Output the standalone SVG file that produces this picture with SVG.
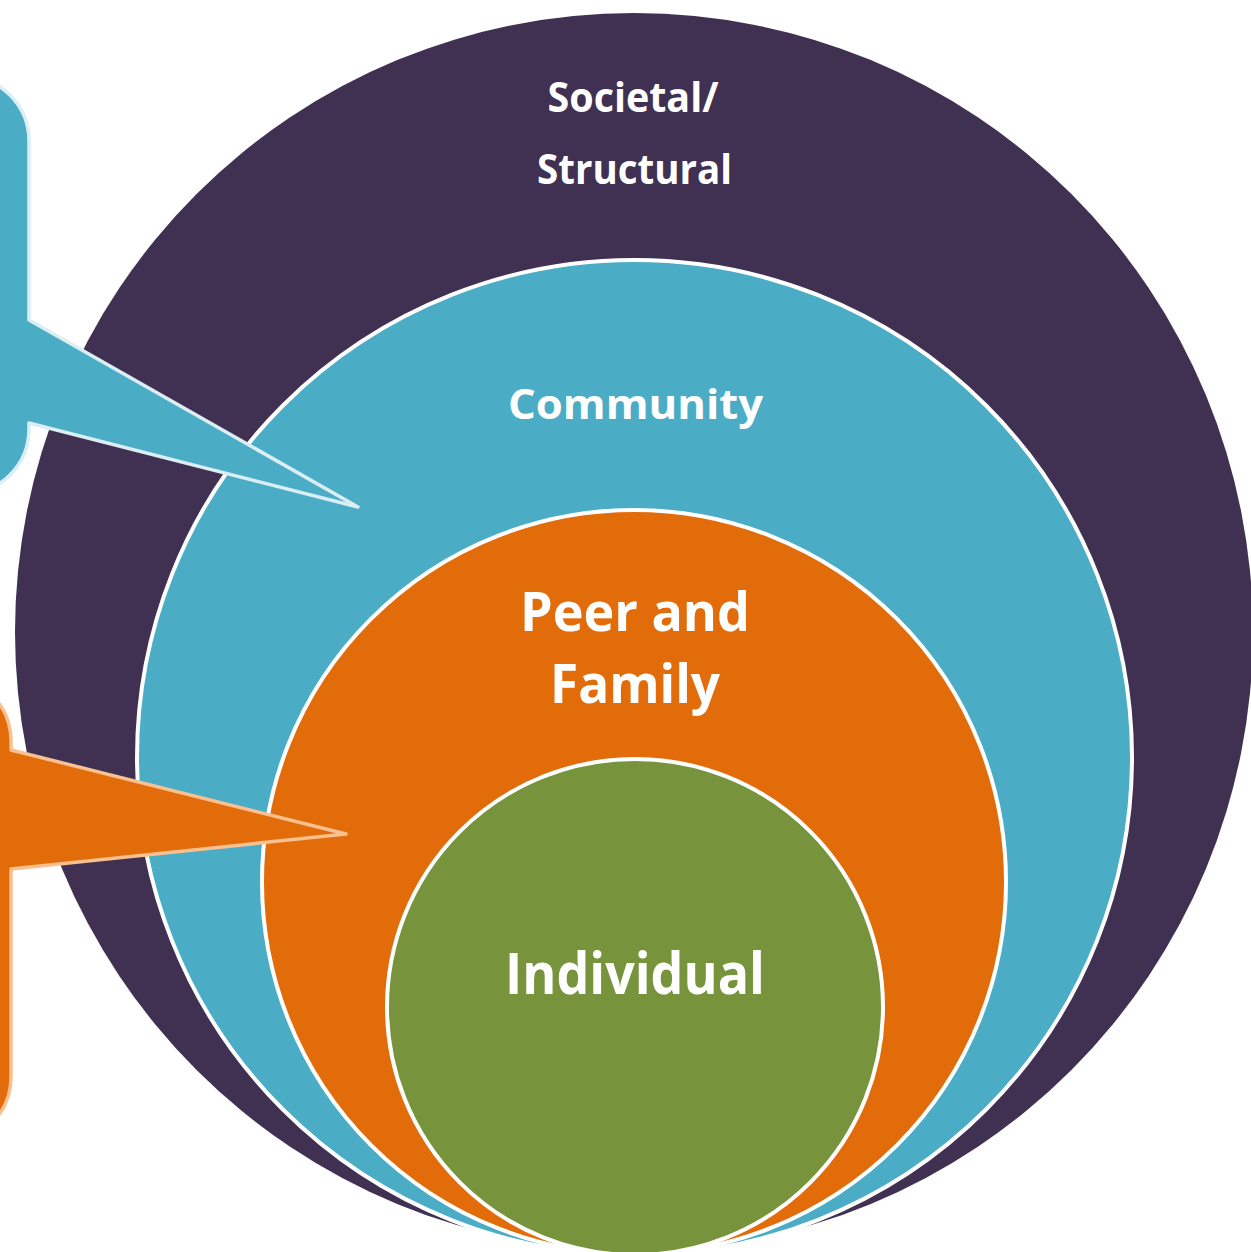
<svg xmlns="http://www.w3.org/2000/svg" width="1251" height="1252" viewBox="0 0 1251 1252">
  <style>
    .ring { stroke: #FFFFFF; stroke-width: 4; }
    .lbl { font-family: "Open Sans", "Noto Sans", "DejaVu Sans", sans-serif; font-weight: 700; fill: #FFFFFF; text-anchor: middle; }
    .sm { font-size: 41px; }
    .lg { font-size: 57px; }
    .md { font-size: 53px; }
    .callout { stroke-width: 3.5; stroke-linejoin: round; }
  </style>
  <rect width="1251" height="1252" fill="#FFFFFF"/>
  <g id="societal">
    <circle cx="634" cy="632" r="619" fill="#403152"/>
    <text class="lbl sm" x="633" y="112" textLength="171" lengthAdjust="spacingAndGlyphs">Societal/</text>
    <text class="lbl sm" x="634.5" y="184" textLength="195" lengthAdjust="spacingAndGlyphs">Structural</text>
  </g>
  <g id="community">
    <circle class="ring" cx="634.5" cy="757.5" r="497.5" fill="#4BACC6"/>
    <text class="lbl sm" x="635.5" y="419" textLength="255" lengthAdjust="spacingAndGlyphs">Community</text>
  </g>
  <g id="peer-family">
    <circle class="ring" cx="634" cy="882" r="372" fill="#E36C0A"/>
    <text class="lbl md" x="635" y="631" textLength="230" lengthAdjust="spacingAndGlyphs">Peer and</text>
    <text class="lbl md" x="635" y="703" textLength="170" lengthAdjust="spacingAndGlyphs">Family</text>
  </g>
  <g id="individual">
    <circle class="ring" cx="635" cy="1007" r="248" fill="#77933C"/>
    <text class="lbl lg" x="635" y="994" textLength="260" lengthAdjust="spacingAndGlyphs">Individual</text>
  </g>
  <g id="connectors">
    <g id="callout-community">
      <path class="callout" fill="#4BACC6" stroke="#DAEEF3" d="M -100,76 H -36 A 65 65 0 0 1 29,141 V 320 L 358,507 L 29,423 V 429 A 65 65 0 0 1 -36,494 H -100 Z"/>
    </g>
    <g id="callout-peer">
      <path class="callout" fill="#E36C0A" stroke="#FAC090" d="M -100,676 H -54 A 65 65 0 0 1 11,741 V 750 L 346,834 L 11,869 V 1077 A 65 65 0 0 1 -54,1142 H -100 Z"/>
    </g>
  </g>
</svg>
